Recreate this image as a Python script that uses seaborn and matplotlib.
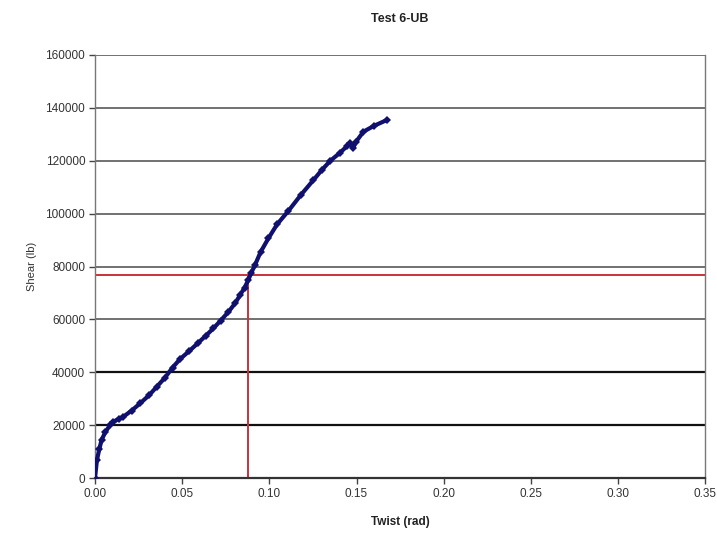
import matplotlib
matplotlib.use("Agg")
import matplotlib.pyplot as plt
import seaborn as sns
import pandas as pd

# Measured twist–shear response
twist = [0, 0.0011, 0.0025, 0.0038, 0.006, 0.0086, 0.0105, 0.0135, 0.0163, 0.021,
         0.026, 0.031, 0.0354, 0.0402, 0.0445, 0.0488, 0.054, 0.059, 0.0635, 0.0679,
         0.072, 0.0765, 0.0805, 0.0832, 0.0858, 0.088, 0.0895, 0.0918, 0.095, 0.0995,
         0.1045, 0.1109, 0.118, 0.1253, 0.1301, 0.135, 0.1405, 0.1445, 0.1463, 0.148,
         0.1495, 0.154, 0.16, 0.1674]
shear = [0, 6800, 11000, 14500, 17400, 20000, 21300, 22300, 23200, 25500,
         28300, 31300, 34500, 38000, 41800, 45000, 48000, 51000, 53800, 56600,
         59500, 62800, 66200, 69200, 72000, 75000, 77400, 80600, 85500, 90700,
         96000, 101000, 107000, 112700, 116500, 120000, 123000, 125500, 126600, 124700,
         127000, 131000, 133200, 135400]

# Reference point marked by the red guide lines
ref_twist = 0.0878
ref_shear = 76800

x_ticks = [0.00, 0.05, 0.10, 0.15, 0.20, 0.25, 0.30, 0.35]
y_ticks = [0, 20000, 40000, 60000, 80000, 100000, 120000, 140000, 160000]

sns.set_theme(style="white")
plt.rcParams["font.family"] = ["Liberation Sans", "DejaVu Sans"]

df = pd.DataFrame({"Twist (rad)": twist, "Shear (lb)": shear})

fig = plt.figure(figsize=(7.17, 5.35), dpi=100)
ax = fig.add_axes([0.1325, 0.1065, 0.851, 0.7907])

ax.set_xlim(0, 0.35)
ax.set_ylim(0, 160000)
ax.set_xticks(x_ticks)
ax.set_yticks(y_ticks)
ax.set_xticklabels([f"{v:.2f}" for v in x_ticks])
ax.set_yticklabels([str(v) for v in y_ticks])

ax.yaxis.grid(True, color="#4a4a4a", linewidth=1.1)
ax.set_axisbelow(True)
for i, gl in enumerate(ax.get_ygridlines()):
    if y_ticks[i] in (20000, 40000):
        gl.set_color("#111111")
        gl.set_linewidth(1.6)

# Red guide lines
ax.axhline(ref_shear, color="#c8323a", linewidth=1.4, zorder=2)
ax.plot([ref_twist, ref_twist], [0, ref_shear], color="#c8323a", linewidth=1.4, zorder=2)

sns.lineplot(data=df, x="Twist (rad)", y="Shear (lb)", ax=ax, color="#10106e",
             linewidth=3.0, marker="D", markersize=3.8, markeredgewidth=0,
             sort=False, estimator=None, zorder=3)

for side in ("left", "right"):
    ax.spines[side].set_color("#777777")
    ax.spines[side].set_linewidth(1.0)
ax.spines["top"].set_visible(False)
ax.spines["bottom"].set_color("#333333")
ax.spines["bottom"].set_linewidth(1.6)

ax.tick_params(axis="both", which="both", direction="out", length=4, width=1,
               color="#444444", labelsize=8.5, labelcolor="#333333", pad=3)
ax.tick_params(axis="x", bottom=True, pad=3)
ax.tick_params(axis="y", left=True)

ax.set_xlabel("Twist (rad)", fontsize=8.5, fontweight="bold", color="#222222", labelpad=12)
ax.set_ylabel("Shear (lb)", fontsize=8, color="#333333", labelpad=6)
ax.set_title("Test 6-UB", fontsize=9, fontweight="bold", color="#222222", pad=24)

fig.savefig("out.png", dpi=100, facecolor="white")
